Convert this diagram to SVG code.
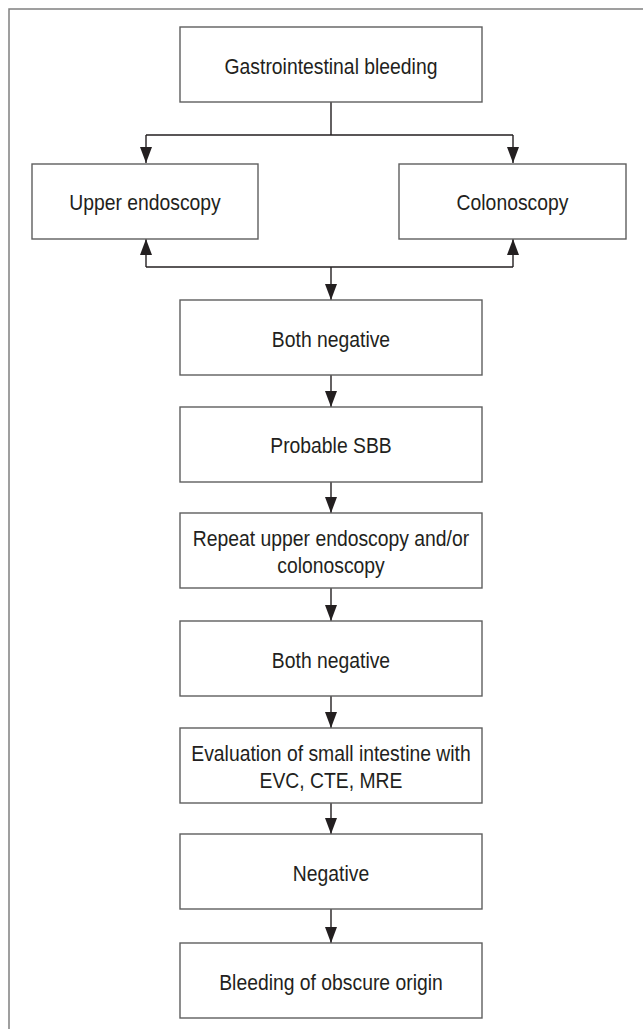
<svg xmlns="http://www.w3.org/2000/svg" width="643" height="1029" viewBox="0 0 643 1029">
<style>
.box{fill:#fff;stroke:#5e5e5e;stroke-width:1.4}
.lbl{font-family:"Liberation Sans",Arial,sans-serif;font-size:22.5px;fill:#231f20;text-anchor:middle}
.con{fill:none;stroke:#231f20;stroke-width:1.4}
.frame{fill:none;stroke:#808080;stroke-width:1.5}
</style>
<defs>
<marker id="ah" viewBox="0 0 16 12" refX="16" refY="6" markerWidth="16" markerHeight="12" markerUnits="userSpaceOnUse" orient="auto">
<path d="M0,0 L16,6 L0,12 Z" fill="#231f20"/>
</marker>
</defs>
<rect width="643" height="1029" fill="#fff"/>
<path class="frame" d="M9,1029 V9 H643"/>

<g id="connectors">
<path class="con" d="M331,102 V135 M146,135 H513"/>
<path class="con" d="M146,135 V163" marker-end="url(#ah)"/>
<path class="con" d="M513,135 V163" marker-end="url(#ah)"/>
<path class="con" d="M146,267 H513"/>
<path class="con" d="M146,267 V239" marker-end="url(#ah)"/>
<path class="con" d="M513,267 V239" marker-end="url(#ah)"/>
<path class="con" d="M331,267 V300" marker-end="url(#ah)"/>
<path class="con" d="M331,375 V407" marker-end="url(#ah)"/>
<path class="con" d="M331,482 V513" marker-end="url(#ah)"/>
<path class="con" d="M331,588 V621" marker-end="url(#ah)"/>
<path class="con" d="M331,696 V728" marker-end="url(#ah)"/>
<path class="con" d="M331,803 V834" marker-end="url(#ah)"/>
<path class="con" d="M331,909 V943" marker-end="url(#ah)"/>
</g>

<g id="n-gi">
<rect class="box" x="180" y="27" width="302" height="75"/>
<g transform="translate(331,74) scale(0.86,1)"><text class="lbl" x="0" y="0">Gastrointestinal bleeding</text></g>
</g>
<g id="n-upper">
<rect class="box" x="32" y="164" width="226" height="75"/>
<g transform="translate(145,210) scale(0.86,1)"><text class="lbl" x="0" y="0">Upper endoscopy</text></g>
</g>
<g id="n-colon">
<rect class="box" x="399" y="164" width="227" height="75"/>
<g transform="translate(512.5,210) scale(0.86,1)"><text class="lbl" x="0" y="0">Colonoscopy</text></g>
</g>
<g id="n-neg1">
<rect class="box" x="180" y="300" width="302" height="75"/>
<g transform="translate(331,346.5) scale(0.86,1)"><text class="lbl" x="0" y="0">Both negative</text></g>
</g>
<g id="n-sbb">
<rect class="box" x="180" y="407" width="302" height="75"/>
<g transform="translate(331,453) scale(0.86,1)"><text class="lbl" x="0" y="0">Probable SBB</text></g>
</g>
<g id="n-repeat">
<rect class="box" x="180" y="513" width="302" height="75"/>
<g transform="translate(331,546) scale(0.86,1)"><text class="lbl" x="0" y="0">Repeat upper endoscopy and/or</text><text class="lbl" x="0" y="27">colonoscopy</text></g>
</g>
<g id="n-neg2">
<rect class="box" x="180" y="621" width="302" height="75"/>
<g transform="translate(331,667.5) scale(0.86,1)"><text class="lbl" x="0" y="0">Both negative</text></g>
</g>
<g id="n-eval">
<rect class="box" x="180" y="728" width="302" height="75"/>
<g transform="translate(331,761) scale(0.86,1)"><text class="lbl" x="0" y="0">Evaluation of small intestine with</text><text class="lbl" x="0" y="27">EVC, CTE, MRE</text></g>
</g>
<g id="n-neg3">
<rect class="box" x="180" y="834" width="302" height="75"/>
<g transform="translate(331,880.5) scale(0.86,1)"><text class="lbl" x="0" y="0">Negative</text></g>
</g>
<g id="n-obscure">
<rect class="box" x="180" y="943" width="302" height="75"/>
<g transform="translate(331,989.5) scale(0.86,1)"><text class="lbl" x="0" y="0">Bleeding of obscure origin</text></g>
</g>
</svg>
